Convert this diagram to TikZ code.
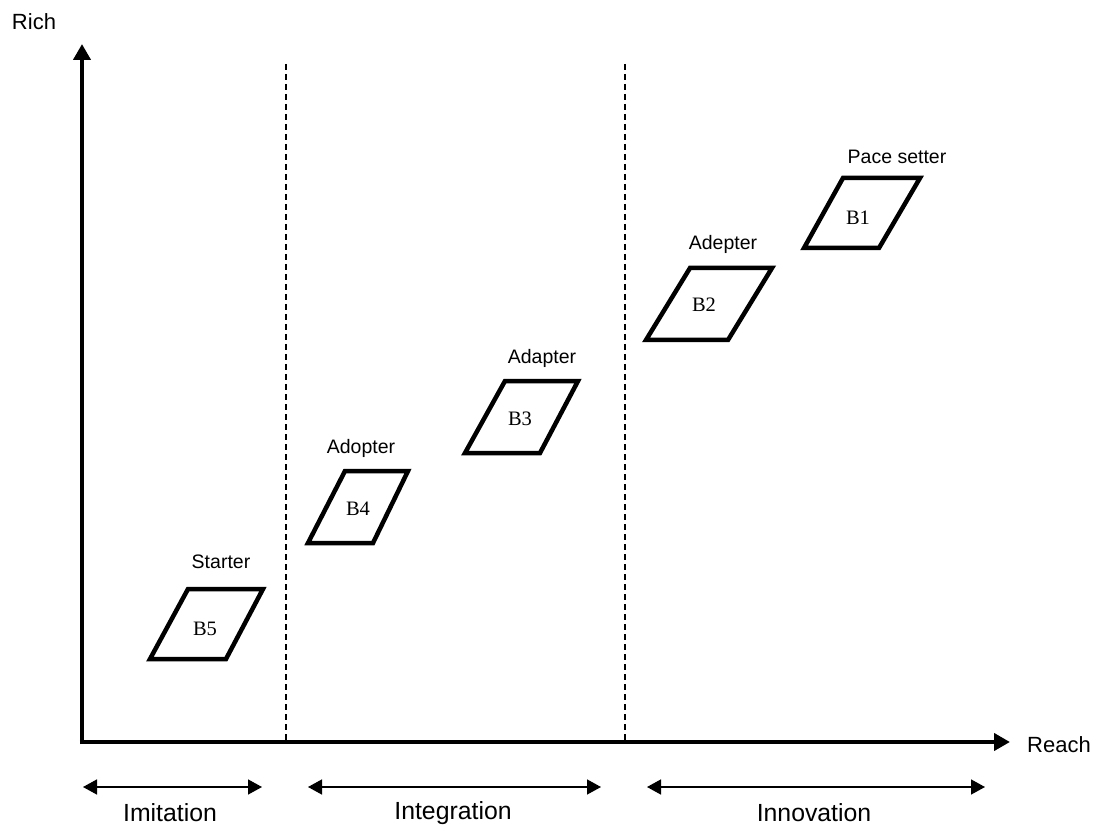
\documentclass[tikz,border=0pt]{standalone}
\usepackage{fontspec}
\setmainfont{Liberation Sans}
\newfontfamily\serifb{Liberation Serif}
\usetikzlibrary{arrows.meta}
\begin{document}
\begin{tikzpicture}[x=1pt,y=-1pt,
  axis/.style={line width=4.5pt,-{Triangle[length=16pt,width=17pt]}},
  divider/.style={line width=1.3pt,dash pattern=on 6pt off 4pt},
  span/.style={line width=1.5pt,{Triangle[length=14pt,width=15pt]}-{Triangle[length=14pt,width=15pt]}},
  para/.style={line width=4.5pt,line join=miter},
  lab/.style={font=\fontsize{19.5}{22}\selectfont,inner sep=0pt},
  axlab/.style={font=\fontsize{22}{26}\selectfont,inner sep=0pt},
  spanlab/.style={font=\fontsize{24.8}{28}\selectfont,inner sep=0pt},
  blab/.style={font=\serifb\fontsize{20.5}{24}\selectfont,inner sep=0pt}]
\useasboundingbox (0,0) rectangle (1098,826);
% axes
\coordinate (O) at (82,742);
\coordinate (Ytop) at (82,44);
\coordinate (Xend) at (1010,742);
\draw[axis] (82,744.2) -- (Ytop);
\draw[axis] (79.8,742) -- (Xend);
\node[axlab] (rich) at (34,22) {Rich};
\node[axlab] (reach) at (1059,745) {Reach};
% dividers
\coordinate (d1t) at (286,64);
\coordinate (d1b) at (286,742);
\coordinate (d2t) at (625,64);
\coordinate (d2b) at (625,742);
\draw[divider] (d1t) -- (d1b);
\draw[divider] (d2t) -- (d2b);
% spans
\coordinate (s1a) at (83,787); \coordinate (s1b) at (262,787);
\coordinate (s2a) at (308,787); \coordinate (s2b) at (601,787);
\coordinate (s3a) at (647,787); \coordinate (s3b) at (985,787);
\draw[span] (s1a) -- (s1b);
\draw[span] (s2a) -- (s2b);
\draw[span] (s3a) -- (s3b);
\node[spanlab] (imit) at (170,813) {Imitation};
\node[spanlab] (integ) at (453,813) {Integration};
\node[spanlab] (innov) at (814,813) {Innovation};
% parallelograms
\draw[para] (188,589) -- (263,589) -- (226,659) -- (150,659) -- cycle;
\node[blab] (b5) at (205,629) {B5};
\node[lab] (starter) at (221,562) {Starter};
\draw[para] (345,471) -- (408,471) -- (373,543) -- (308,543) -- cycle;
\node[blab] (b4) at (358,509) {B4};
\node[lab] (adopter) at (361,448) {Adopter};
\draw[para] (505,381) -- (578,381) -- (540,453) -- (465,453) -- cycle;
\node[blab] (b3) at (520,419) {B3};
\node[lab] (adapter) at (542,358) {Adapter};
\draw[para] (690,268) -- (772,268) -- (728,340) -- (646,340) -- cycle;
\node[blab] (b2) at (704,305) {B2};
\node[lab] (adepter) at (723,244) {Adepter};
\draw[para] (843,178) -- (920,178) -- (879,248) -- (804,248) -- cycle;
\node[blab] (b1) at (858,218) {B1};
\node[lab] (pace) at (897,157) {Pace setter};
\end{tikzpicture}
\end{document}
